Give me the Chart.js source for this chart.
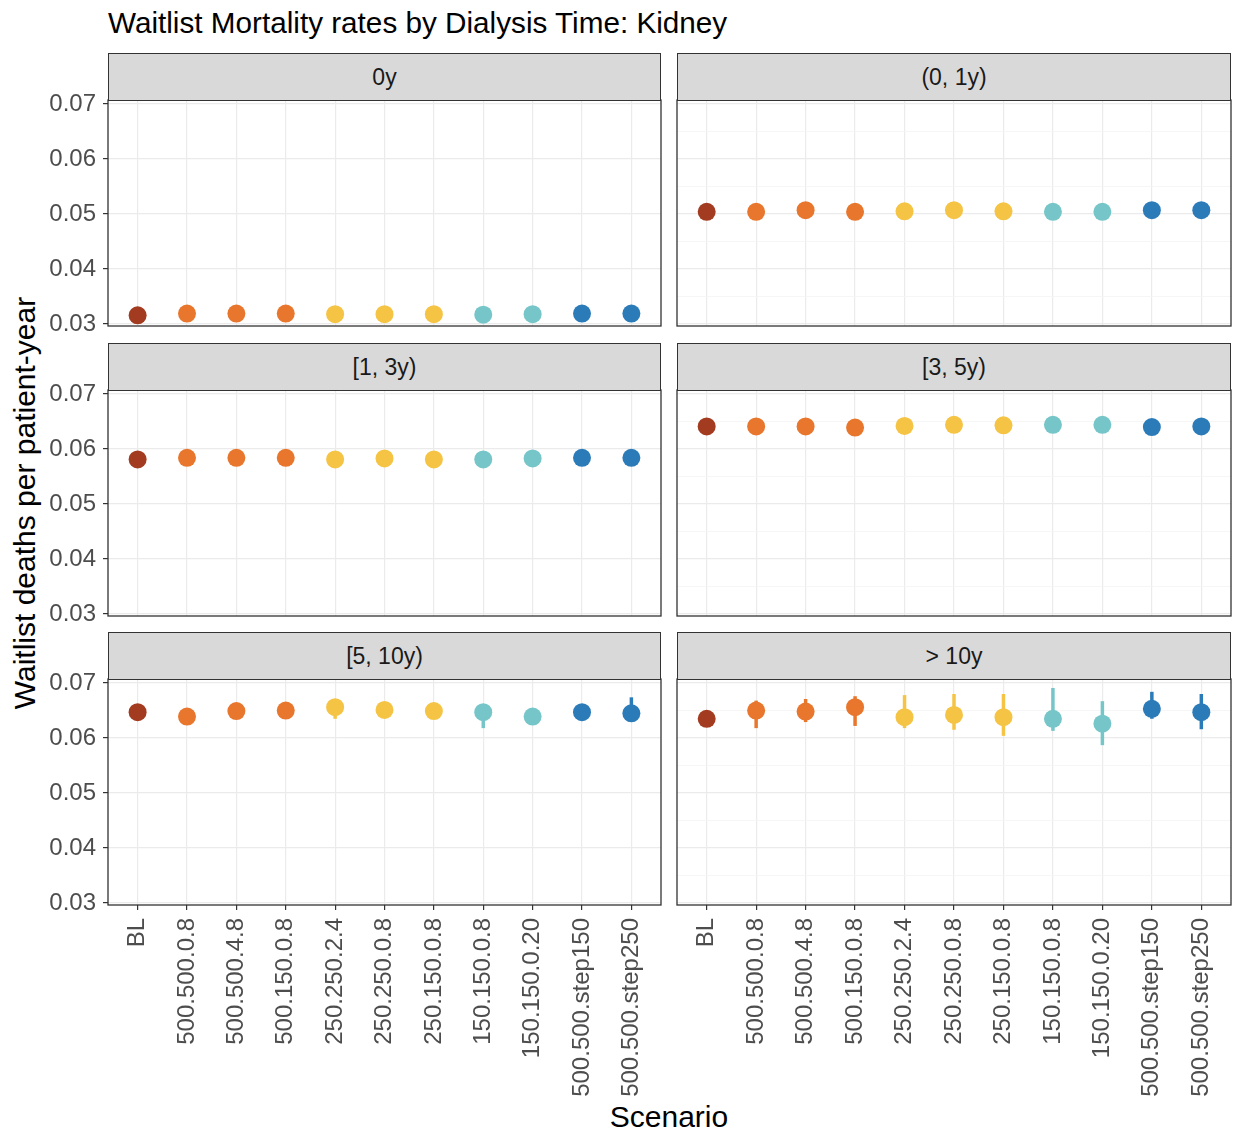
<!DOCTYPE html>
<html>
<head>
<meta charset="utf-8">
<script src="https://cdn.jsdelivr.net/npm/chart.js@4.4.1/dist/chart.umd.min.js"></script>
<style>
  body { margin:0; background:#fff; font-family:Arial,"Liberation Sans",sans-serif; }
  #page { position:relative; width:1235px; height:1133px; overflow:hidden; }
  .panel { position:absolute; }
  .strip { position:absolute; background:#d9d9d9; border:1.3px solid #333; box-sizing:border-box;
           display:flex; align-items:center; justify-content:center; font-size:23px; color:#1a1a1a; z-index:2; }
  .txt { position:absolute; color:#000; white-space:nowrap; line-height:1; }
</style>
</head>
<body>
<div id="page">
  <div class="txt" style="left:108px;top:8px;font-size:29.7px">Waitlist Mortality rates by Dialysis Time: Kidney</div>
  <div class="txt" style="left:25px;top:503px;font-size:30px;transform:translate(-50%,-50%) rotate(-90deg)">Waitlist deaths per patient-year</div>
  <div class="txt" style="left:669px;top:1117px;font-size:30px;transform:translate(-50%,-50%)">Scenario</div>
</div>
<script>
/* ---- data ---- */
const scenarios = ['BL','500.500.0.8','500.500.4.8','500.150.0.8','250.250.2.4','250.250.0.8',
                   '250.150.0.8','150.150.0.8','150.150.0.20','500.500.step150','500.500.step250'];
const groups = ['0y','(0, 1y)','[1, 3y)','[3, 5y)','[5, 10y)','> 10y'];
const yTicks = [0.03,0.035,0.04,0.045,0.05,0.055,0.06,0.065,0.07];
const yMajor = [0.03,0.04,0.05,0.06,0.07];

const rate0  = [0.0316,0.0319,0.0319,0.0319,0.0318,0.0318,0.0318,0.0317,0.0318,0.0319,0.0319];
const rate01 = [0.0504,0.0504,0.0507,0.0504,0.0505,0.0507,0.0505,0.0504,0.0504,0.0507,0.0507];
const rate13 = [0.0581,0.0584,0.0584,0.0584,0.0581,0.0583,0.0581,0.0581,0.0583,0.0584,0.0584];
const rate35 = [0.0641,0.0641,0.0641,0.0639,0.0642,0.0644,0.0643,0.0644,0.0644,0.0640,0.0641];
const rate510 = [0.0647,0.0639,0.0649,0.0650,0.0656,0.0651,0.0649,0.0647,0.0639,0.0647,0.0645];
const lo510   = [0.0640,0.0632,0.0642,0.0643,0.0635,0.0644,0.0642,0.0618,0.0632,0.0640,0.0637];
const hi510   = [0.0654,0.0646,0.0656,0.0657,0.0667,0.0658,0.0656,0.0660,0.0646,0.0654,0.0674];
const rate10 = [0.0635,0.0650,0.0648,0.0656,0.0638,0.0642,0.0638,0.0635,0.0626,0.0653,0.0647];
const lo10   = [0.0630,0.0618,0.0629,0.0622,0.0618,0.0615,0.0604,0.0613,0.0587,0.0635,0.0616];
const hi10   = [0.0640,0.0668,0.0671,0.0676,0.0678,0.0680,0.0680,0.0691,0.0667,0.0684,0.0680];

const colors = ['#a23b1f','#e8762c','#e8762c','#e8762c','#f5c445','#f5c445','#f5c445',
                '#76c6c9','#76c6c9','#2b7bb9','#2b7bb9'];

const panels = [
  { label: groups[0], rate: rate0,   lo: null,  hi: null  },
  { label: groups[1], rate: rate01,  lo: null,  hi: null  },
  { label: groups[2], rate: rate13,  lo: null,  hi: null  },
  { label: groups[3], rate: rate35,  lo: null,  hi: null  },
  { label: groups[4], rate: rate510, lo: lo510, hi: hi510 },
  { label: groups[5], rate: rate10,  lo: lo10,  hi: hi10  },
];

/* ---- layout ---- */
const colX   = [[108, 661], [677, 1231]];   // plot left/right
const rowTop = [100, 390, 679];
const plotH  = 226;
const stripH = 47;
const PAD = 28;    // room above/below plot so tick labels don't squeeze it
const SIDE = 16;   // room left/right for rotated label overflow

const isMajor = v => yMajor.some(m => Math.abs(m - v) < 1e-9);

// error bars + panel border
const panelPlugin = {
  id: 'panelPlugin',
  beforeDatasetsDraw(chart) {
    const p = chart.options.plugins.panelPlugin;
    if (!p.lo) return;
    const { ctx, scales: { x, y } } = chart;
    ctx.save();
    ctx.lineWidth = 3.5;
    p.lo.forEach((lo, i) => {
      ctx.strokeStyle = colors[i];
      ctx.beginPath();
      ctx.moveTo(x.getPixelForValue(i), y.getPixelForValue(lo));
      ctx.lineTo(x.getPixelForValue(i), y.getPixelForValue(p.hi[i]));
      ctx.stroke();
    });
    ctx.restore();
  },
  afterDraw(chart) {
    const { ctx, chartArea: a } = chart;
    ctx.save();
    ctx.strokeStyle = '#333';
    ctx.lineWidth = 1.3;
    ctx.strokeRect(a.left, a.top, a.right - a.left, a.bottom - a.top);
    ctx.restore();
  }
};

const page = document.getElementById('page');

panels.forEach((p, k) => {
  const col = k % 2, row = Math.floor(k / 2);
  const left = col === 0 ? 20 : colX[1][0] - SIDE;
  const yW = colX[col][0] - left;
  const width = colX[col][1] + SIDE - left;
  const bottomRow = row === 2;
  const xH = bottomRow ? 200 : 0;
  const top = rowTop[row] - PAD;
  const height = PAD + plotH + (bottomRow ? xH : PAD);

  const strip = document.createElement('div');
  strip.className = 'strip';
  strip.style.left = colX[col][0] + 'px';
  strip.style.top = (rowTop[row] - stripH) + 'px';
  strip.style.width = (colX[col][1] - colX[col][0]) + 'px';
  strip.style.height = (stripH + 1) + 'px';
  strip.textContent = p.label;
  page.appendChild(strip);

  const box = document.createElement('div');
  box.className = 'panel';
  Object.assign(box.style, { left: left + 'px', top: top + 'px', width: width + 'px', height: height + 'px' });
  const cv = document.createElement('canvas');
  box.appendChild(cv);
  page.appendChild(box);

  new Chart(cv, {
    type: 'scatter',
    data: {
      datasets: [{
        data: p.rate.map((v, i) => ({ x: i, y: v })),
        pointBackgroundColor: colors,
        pointBorderWidth: 0,
        pointRadius: 9,
        pointHoverRadius: 9,
      }],
    },
    options: {
      responsive: true,
      maintainAspectRatio: false,
      animation: false,
      layout: { autoPadding: false, padding: { top: PAD, right: SIDE, bottom: bottomRow ? 0 : PAD, left: 0 } },
      plugins: { legend: { display: false }, tooltip: { enabled: false }, panelPlugin: { lo: p.lo, hi: p.hi } },
      scales: {
        x: {
          type: 'linear', min: -0.6, max: scenarios.length - 1 + 0.6,
          afterBuildTicks: s => { s.ticks = scenarios.map((_, i) => ({ value: i })); },
          afterFit: s => { s.height = xH; },
          border: { display: false },
          grid: { color: '#ebebeb', lineWidth: 1.2, drawTicks: bottomRow, tickLength: 5, tickColor: '#333', tickWidth: 1.2 },
          ticks: {
            display: bottomRow, autoSkip: false, maxRotation: 90, minRotation: 90, padding: 8,
            color: '#4d4d4d', font: { family: 'Arial, "Liberation Sans"', size: 24 },
            callback: v => scenarios[v],
          },
        },
        y: {
          min: 0.02965, max: 0.07073,
          afterBuildTicks: s => { s.ticks = yTicks.map(v => ({ value: v })); },
          afterFit: s => { s.width = yW; },
          border: { display: false },
          grid: {
            color: c => isMajor(c.tick.value) ? '#ebebeb' : '#f4f4f4',
            lineWidth: c => isMajor(c.tick.value) ? 1.2 : 0.8,
            drawTicks: col === 0, tickLength: 5, tickWidth: 1.2,
            tickColor: c => isMajor(c.tick.value) ? '#333' : 'rgba(0,0,0,0)',
          },
          ticks: {
            display: col === 0, padding: 7, color: '#4d4d4d',
            font: { family: 'Arial, "Liberation Sans"', size: 24 },
            callback: v => isMajor(v) ? v.toFixed(2) : '',
          },
        },
      },
    },
    plugins: [panelPlugin],
  });
});
</script>
</body>
</html>
